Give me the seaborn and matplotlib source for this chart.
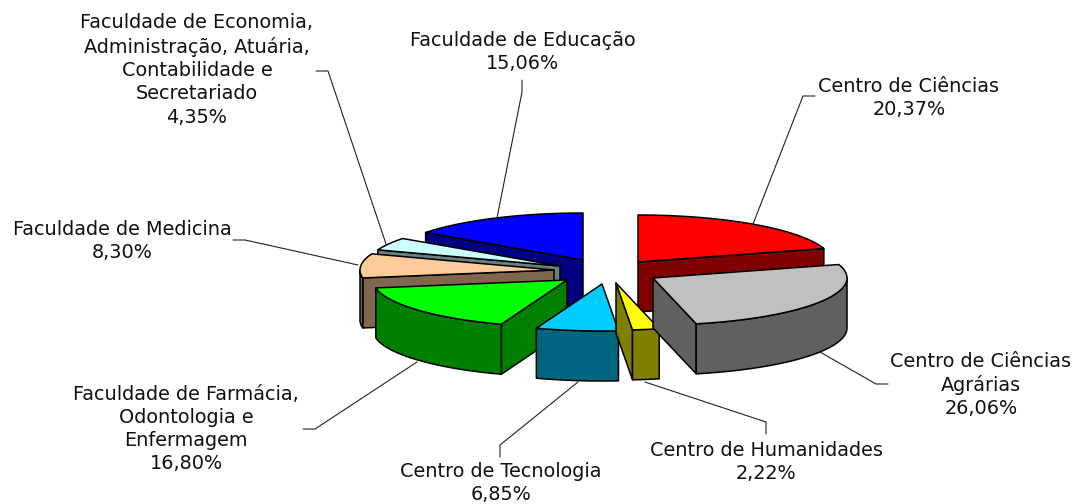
import numpy as np
import matplotlib
matplotlib.use('Agg')
import matplotlib.pyplot as plt
import seaborn as sns

# Dados (sentido horario a partir do topo)
nomes = ['Centro de Ciências', 'Centro de Ciências\nAgrárias', 'Centro de Humanidades',
         'Centro de Tecnologia', 'Faculdade de Farmácia,\nOdontologia e\nEnfermagem',
         'Faculdade de Medicina',
         'Faculdade de Economia,\nAdministração, Atuária,\nContabilidade e\nSecretariado',
         'Faculdade de Educação']
valores = [20.37, 26.06, 2.22, 6.85, 16.80, 8.30, 4.35, 15.06]
cores = ['#FF0000', '#C0C0C0', '#FFFF00', '#00CCFF', '#00FF00', '#FFCC99', '#CCFFFF', '#0000FF']

# Layout em pixels: vertice de cada fatia explodida
vertices = [(638, 262), (653, 278), (616, 283), (602, 284), (567, 280), (554, 270), (560, 266), (583, 260)]
ordem = [7, 6, 5, 0, 4, 3, 2, 1]  # de tras para frente
A, B, PROF = 194, 47, 50

pos_texto = [(909, 98), (981, 385), (766, 462), (501, 483), (186, 429), (122, 241), (197, 70), (523, 52)]
guias = [[(753, 224), (803, 96), (815, 96)],
         [(820, 352), (876, 384), (888, 384)],
         [(645, 382), (766, 422), (766, 434)],
         [(578, 382), (500, 445), (500, 457)],
         [(417, 362), (315, 429), (303, 429)],
         [(358, 265), (245, 240), (233, 240)],
         [(388, 250), (328, 71), (316, 71)],
         [(497, 218), (522, 92), (522, 80)]]

sns.set_style('white')
fig, ax = plt.subplots(figsize=(10.75, 5.04), dpi=100)
ax.set_position([0, 0, 1, 1])
ax.set_xlim(0, 1075)
ax.set_ylim(504, 0)
ax.axis('off')

paleta = sns.color_palette(cores)
fim = np.cumsum(valores) / np.sum(valores) * 2 * np.pi
ini = np.concatenate([[0], fim[:-1]])


def aro(cx, cy, t):
    return cx + A * np.sin(t), cy - B * np.cos(t)


# Guias ficam atras das fatias
for g in guias:
    xs, ys = zip(*g)
    ax.plot(xs, ys, color='#222222', lw=0.8, zorder=1)

z = 2
for i in ordem:
    cx, cy = vertices[i]
    cor = paleta[i]
    escura = tuple(c * 0.5 for c in cor)
    t = np.linspace(ini[i], fim[i], 80)
    x, y = aro(cx, cy, t)
    kw = dict(edgecolor='black', lw=1.1, joinstyle='round', zorder=z)

    # faces radiais, so as voltadas para frente
    for t0, visivel in ((ini[i], np.sin(ini[i]) < 0), (fim[i], np.sin(fim[i]) > 0)):
        if visivel:
            xr, yr = aro(cx, cy, t0)
            ax.fill([cx, xr, xr, cx], [cy, yr, yr + PROF, cy + PROF], facecolor=escura, **kw)

    # parede externa, so a parte voltada para frente
    tf = np.linspace(max(ini[i], np.pi / 2), min(fim[i], 3 * np.pi / 2), 80)
    if tf[-1] > tf[0]:
        xf, yf = aro(cx, cy, tf)
        ax.fill(np.r_[xf, xf[::-1]], np.r_[yf, yf[::-1] + PROF], facecolor=escura, **kw)

    # topo
    ax.fill(np.r_[cx, x], np.r_[cy, y], facecolor=cor, **kw)
    z += 1

for nome, v, (tx, ty) in zip(nomes, valores, pos_texto):
    rotulo = nome + '\n' + f'{v:.2f}%'.replace('.', ',')
    ax.text(tx, ty, rotulo, ha='center', va='center', multialignment='center',
            fontsize=13.9, linespacing=1.28, color='#111111', zorder=20)

plt.savefig('out.png', dpi=100)
plt.close()
